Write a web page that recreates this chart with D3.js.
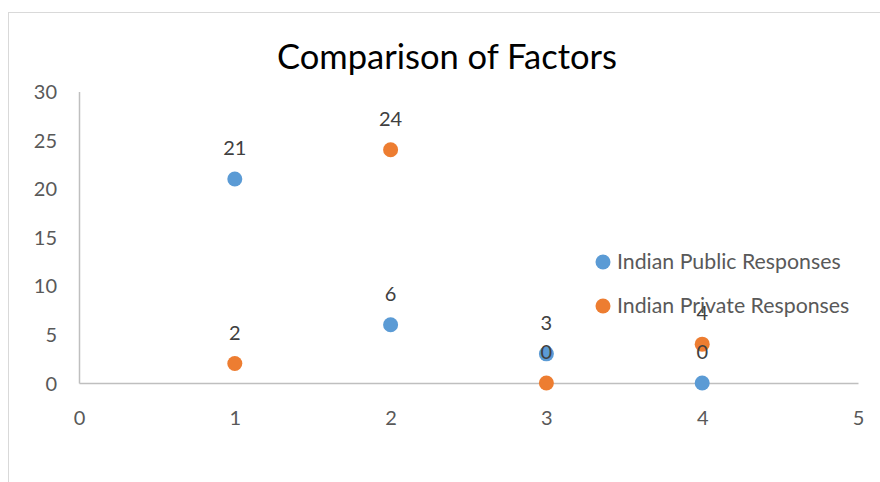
<!DOCTYPE html>
<html>
<head>
<meta charset="utf-8">
<script src="https://cdn.jsdelivr.net/npm/d3@7"></script>
<style>
  body { margin: 0; background: #fff; }
  svg { display: block; font-family: Lato, "Open Sans", sans-serif; }
</style>
</head>
<body>
<svg id="chart" width="880" height="482"></svg>
<script>
const xValues = [1, 2, 3, 4];
const publicValues = [21, 6, 3, 0];
const privateValues = [2, 24, 0, 4];
const seriesNames = ["Indian Public Responses", "Indian Private Responses"];
const seriesColors = ["#5B9BD5", "#ED7D31"];
const xTicks = [0, 1, 2, 3, 4, 5];
const yTicks = [0, 5, 10, 15, 20, 25, 30];

const svg = d3.select("#chart");

// chart frame, partly cut off at right and bottom
svg.append("rect")
    .attr("x", 8.5).attr("y", 12.5)
    .attr("width", 900).attr("height", 500)
    .attr("fill", "#fff")
    .attr("stroke", "#d9d9d9");

const x = d3.scaleLinear().domain([0, 5]).range([79, 858]);
const y = d3.scaleLinear().domain([0, 30]).range([383, 91.5]);

svg.append("text")
    .attr("x", 447).attr("y", 57)
    .attr("dy", "0.35em")
    .attr("text-anchor", "middle")
    .attr("font-size", "34.5px")
    .attr("fill", "#000")
    .text("Comparison of Factors");

// axes
const gx = svg.append("g").attr("transform", `translate(0,${y(0)})`)
    .call(d3.axisBottom(x).tickValues(xTicks).tickFormat(d3.format("d")).tickSize(0).tickPadding(24));
const gy = svg.append("g").attr("transform", `translate(${x(0)},0)`)
    .call(d3.axisLeft(y).tickValues(yTicks).tickFormat(d3.format("d")).tickSize(0).tickPadding(22));
[gx, gy].forEach(g => {
    g.select(".domain").attr("stroke", "#bfbfbf").attr("stroke-width", 1.5);
    g.selectAll("text").attr("font-size", "20px").attr("fill", "#595959")
        .attr("font-family", "Lato, sans-serif");
});
gx.selectAll("text").attr("dy", null).attr("y", 34).attr("dominant-baseline", "central");
gy.selectAll("text").attr("dy", "0.35em");

const series = [publicValues, privateValues];

// points
series.forEach((vals, s) => {
    svg.append("g").selectAll("circle")
        .data(vals)
        .join("circle")
        .attr("cx", (d, i) => x(xValues[i]))
        .attr("cy", d => y(d))
        .attr("r", 7.5)
        .attr("fill", seriesColors[s]);
});

// data labels
series.forEach((vals) => {
    svg.append("g").selectAll("text")
        .data(vals)
        .join("text")
        .attr("x", (d, i) => x(xValues[i]))
        .attr("y", d => y(d) - 31)
        .attr("dy", "0.35em")
        .attr("text-anchor", "middle")
        .attr("font-size", "20px")
        .attr("fill", "#404040")
        .text(d => d);
});

// legend
const legend = svg.append("g")
    .selectAll("g")
    .data(seriesNames)
    .join("g")
    .attr("transform", (d, i) => `translate(603,${262 + i * 44})`);
legend.append("circle")
    .attr("r", 7.5)
    .attr("fill", (d, i) => seriesColors[i]);
legend.append("text")
    .attr("x", 14)
    .attr("dy", "0.35em")
    .attr("font-size", "21.3px")
    .attr("fill", "#595959")
    .text(d => d);
</script>
</body>
</html>
